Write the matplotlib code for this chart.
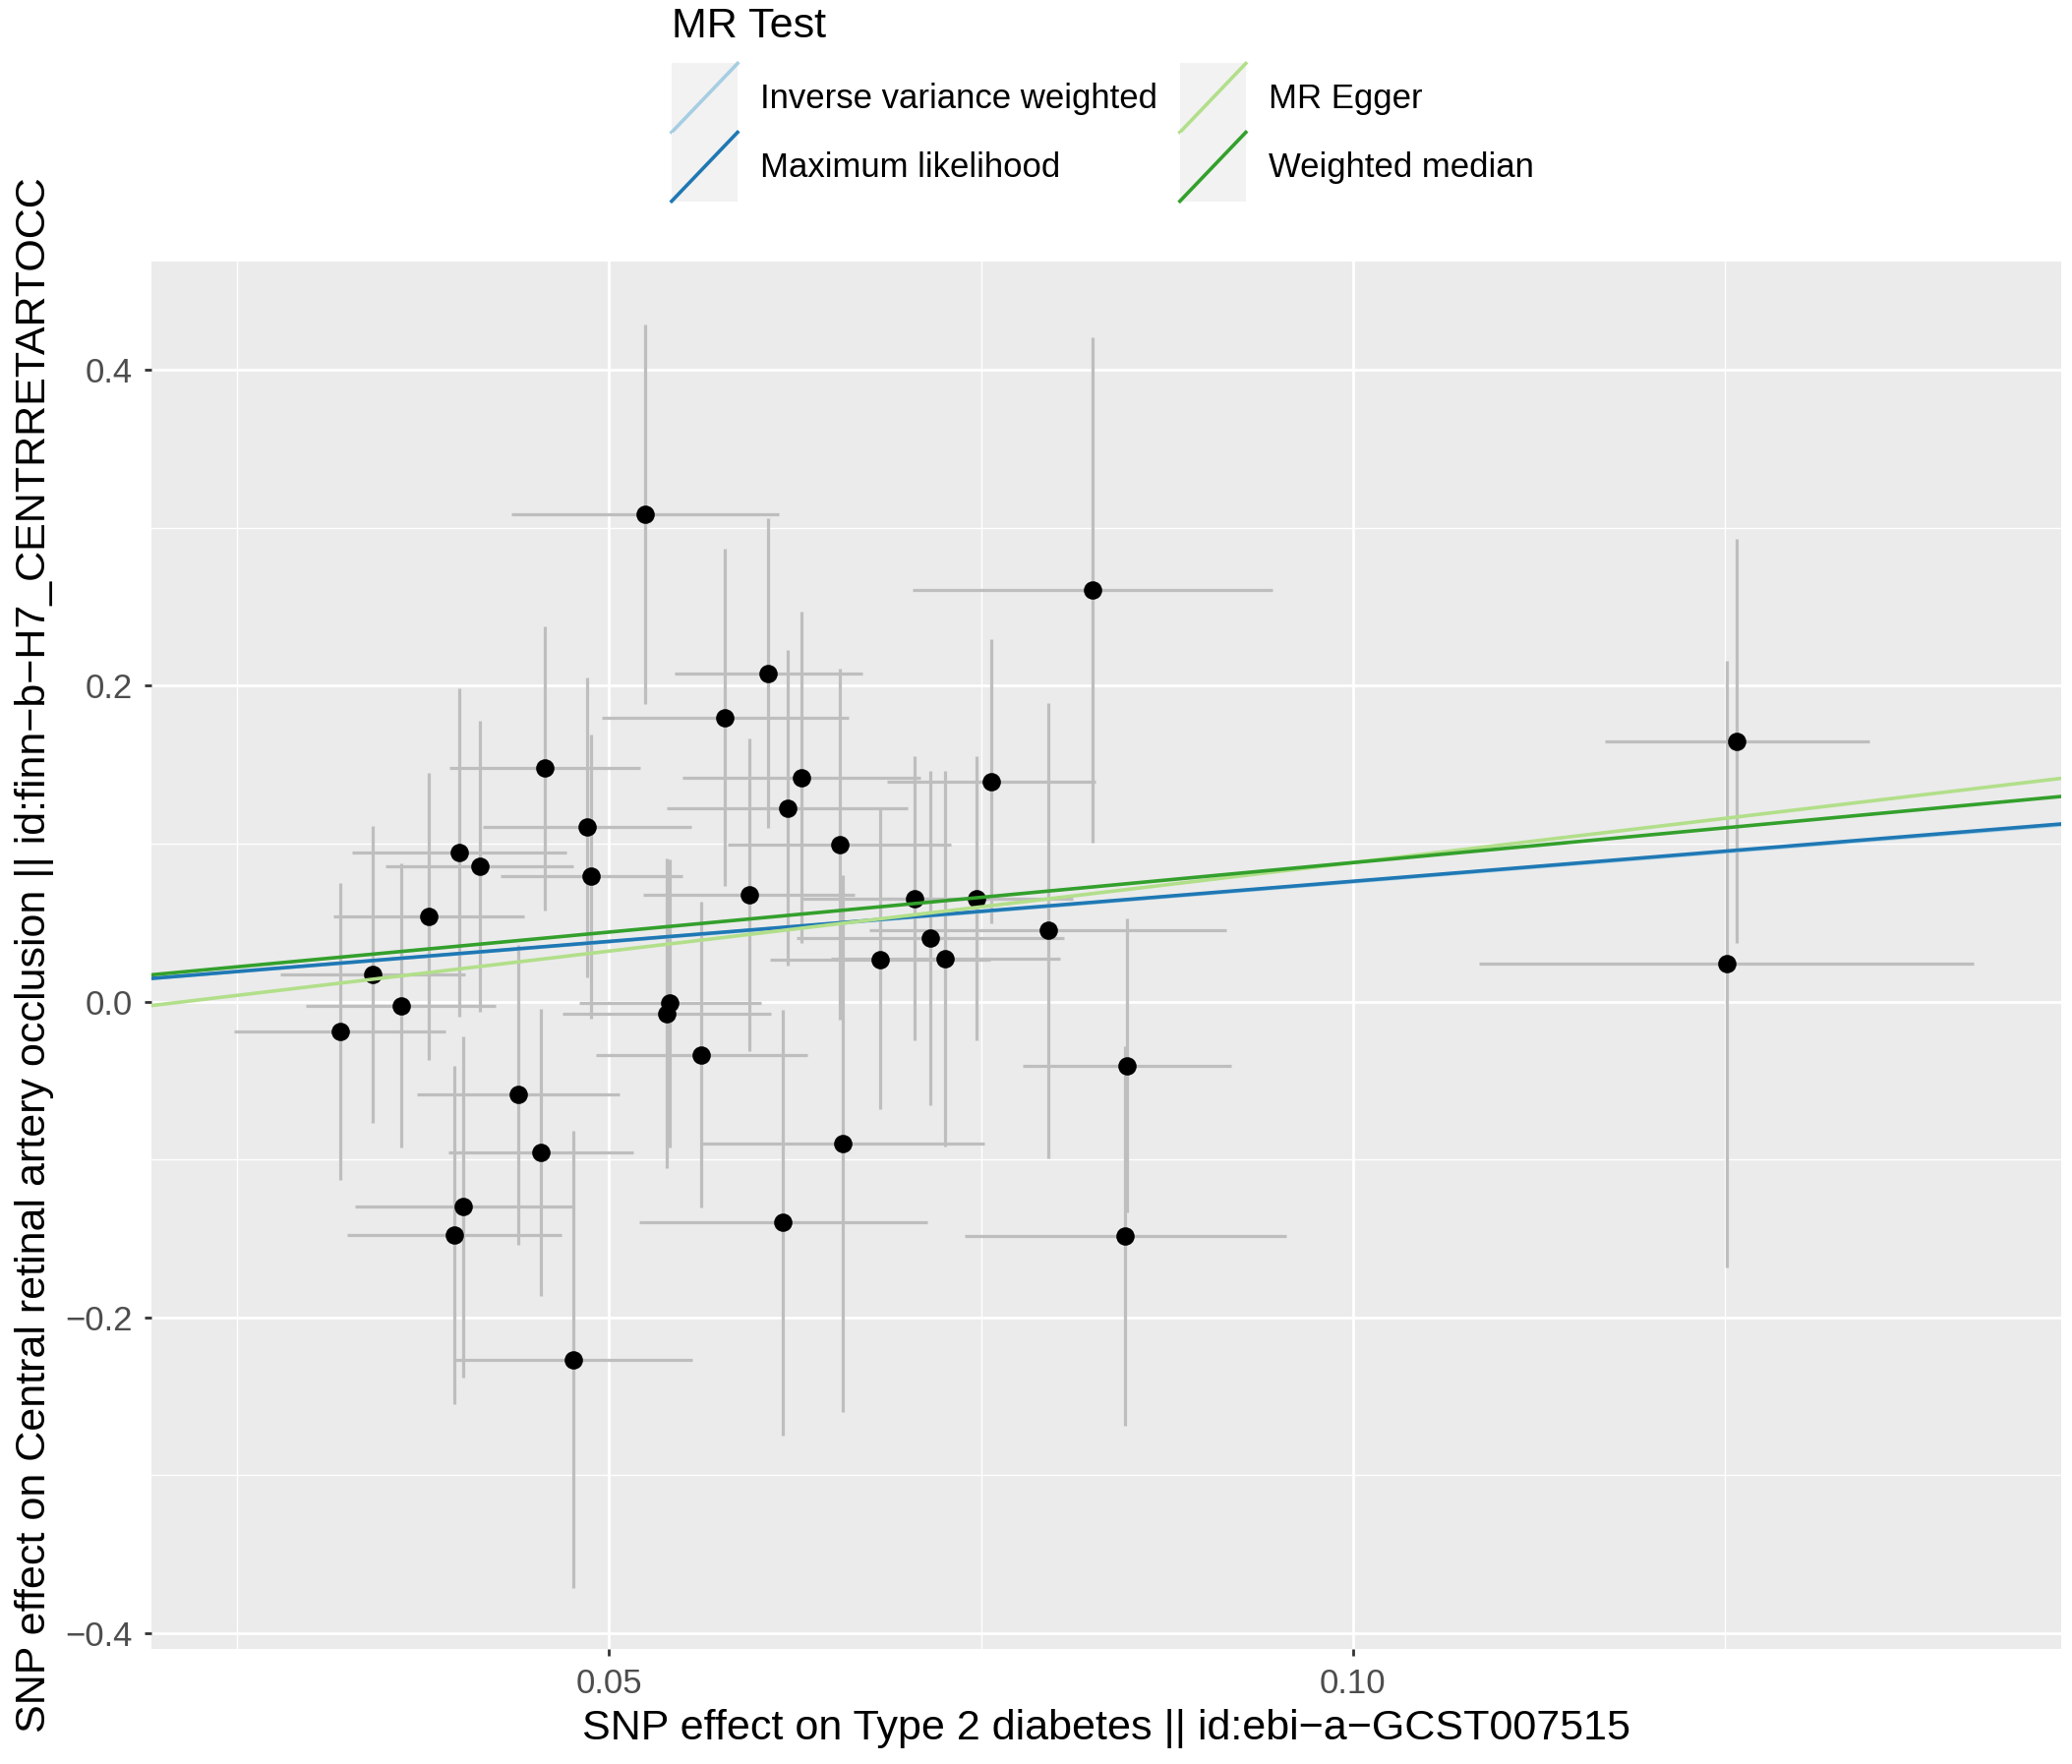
import numpy as np
import matplotlib
matplotlib.use('Agg')
from matplotlib import pyplot as plt
from matplotlib.lines import Line2D
from matplotlib.patches import Rectangle
from matplotlib.legend_handler import HandlerBase

plt.rcParams['font.family'] = ['Liberation Sans', 'DejaVu Sans']

# SNP effects on exposure (x) and outcome (y) with standard errors
beta_exp = [0.0319, 0.0341, 0.0360, 0.0379, 0.0396, 0.0399, 0.0402, 0.0413, 0.0439, 0.0454,
            0.0457, 0.0476, 0.0485, 0.0488, 0.0524, 0.0539, 0.0541, 0.0562, 0.0578, 0.0594,
            0.0607, 0.0617, 0.0620, 0.0629, 0.0655, 0.0657, 0.0682, 0.0705, 0.0716, 0.0726,
            0.0747, 0.0757, 0.0795, 0.0825, 0.0848, 0.0847, 0.1251, 0.1258]
beta_out = [-0.0188, 0.0171, -0.0026, 0.0539, -0.1478, 0.0942, -0.1300, 0.0856, -0.0589, -0.0957,
            0.1478, -0.2266, 0.1103, 0.0792, 0.3086, -0.0075, -0.0011, -0.0336, 0.1800, 0.0674,
            0.2078, -0.1400, 0.1225, 0.1420, 0.0996, -0.0900, 0.0268, 0.0653, 0.0402, 0.0270,
            0.0653, 0.1395, 0.0449, 0.2606, -0.0405, -0.1484, 0.0238, 0.1650]
se_exp = [0.0071, 0.0062, 0.0064, 0.0064, 0.0072, 0.0072, 0.0073, 0.0063, 0.0068, 0.0062,
          0.0064, 0.0080, 0.0070, 0.0061, 0.0090, 0.0070, 0.0061, 0.0071, 0.0083, 0.0071,
          0.0063, 0.0097, 0.0081, 0.0080, 0.0075, 0.0095, 0.0074, 0.0075, 0.0090, 0.0077,
          0.0065, 0.0070, 0.0120, 0.0121, 0.0070, 0.0108, 0.0166, 0.0089]
se_out = [0.094, 0.094, 0.090, 0.091, 0.107, 0.104, 0.108, 0.092, 0.095, 0.091,
          0.090, 0.145, 0.095, 0.090, 0.120, 0.098, 0.091, 0.097, 0.107, 0.099,
          0.098, 0.135, 0.100, 0.105, 0.111, 0.170, 0.095, 0.090, 0.106, 0.119,
          0.090, 0.090, 0.144, 0.160, 0.093, 0.120, 0.192, 0.128]

# MR method estimates (slope, intercept)
methods = ['Inverse variance weighted', 'Maximum likelihood', 'MR Egger', 'Weighted median']
slopes = [0.758, 0.762, 1.121, 0.880]
intercepts = [0.0, 0.0, -0.0241, 0.0]
colors = ['#a6cee3', '#1f78b4', '#b2df8a', '#33a02c']

x_ticks = [0.05, 0.10]
x_ticklabels = ['0.05', '0.10']
x_minor = [0.025, 0.075, 0.125]
y_ticks = [-0.4, -0.2, 0.0, 0.2, 0.4]
y_ticklabels = ['\u22120.4', '\u22120.2', '0.0', '0.2', '0.4']
y_minor = [-0.3, -0.1, 0.1, 0.3]


class DiagHandler(HandlerBase):
    def create_artists(self, legend, orig_handle, xdescent, ydescent, width, height, fontsize, trans):
        bg = Rectangle((-xdescent, -ydescent), width, height, facecolor='#f2f2f2',
                       edgecolor='none', transform=trans)
        ln = Line2D([-xdescent, -xdescent + width], [-ydescent, -ydescent + height],
                    color=orig_handle.get_color(), lw=orig_handle.get_linewidth(), transform=trans)
        return [bg, ln]


fig = plt.figure(figsize=(21.07, 17.94), dpi=100)
ax = fig.add_axes([0.0733, 0.0652, 0.9215, 0.7865])
ax.set_facecolor('#ebebeb')
for s in ax.spines.values():
    s.set_visible(False)

ax.set_xticks(x_ticks)
ax.set_xticklabels(x_ticklabels)
ax.set_xticks(x_minor, minor=True)
ax.set_yticks(y_ticks)
ax.set_yticklabels(y_ticklabels)
ax.set_yticks(y_minor, minor=True)
ax.grid(which='major', color='white', linewidth=2.0)
ax.grid(which='minor', color='white', linewidth=1.0)
ax.set_axisbelow(True)
ax.tick_params(which='major', length=5, width=2, color='#333333', labelcolor='#4d4d4d',
               labelsize=25, pad=9)
ax.tick_params(which='minor', length=0)

ax.errorbar(beta_exp, beta_out, xerr=se_exp, yerr=se_out, fmt='none', ecolor='#bebebe',
            elinewidth=2.3, capsize=0, zorder=2)
ax.scatter(beta_exp, beta_out, s=180, color='black', zorder=3, linewidths=0)

handles = []
for m, a, b, c in zip(methods, slopes, intercepts, colors):
    ax.axline((0, b), slope=a, color=c, linewidth=2.6, zorder=4)
    handles.append(Line2D([], [], color=c, linewidth=2.6, label=m))

ax.set_xlim(0.01927, 0.1476)
ax.set_ylim(-0.41, 0.4686)

ax.set_xlabel('SNP effect on Type 2 diabetes || id:ebi\u2212a\u2212GCST007515', fontsize=31, labelpad=6)
ax.set_ylabel('SNP effect on Central retinal artery occlusion || id:finn\u2212b\u2212H7_CENTRRETARTOCC',
              fontsize=31, labelpad=8)

# legend title and entries
fig.text(683 / 2107, 1 - 27 / 1794, 'MR Test', fontsize=31, ha='left', va='center')
leg = fig.legend(handles=handles, labels=methods, ncol=2, fontsize=25,
                 frameon=False, loc='upper left',
                 bbox_to_anchor=(683 / 2107, 1 - 64.5 / 1794), borderpad=0, handlelength=1.93,
                 handleheight=2.727, labelspacing=0.0, handletextpad=0.66, columnspacing=0.66,
                 borderaxespad=0,
                 handler_map={Line2D: DiagHandler()})

fig.savefig('out.png', dpi=100)
